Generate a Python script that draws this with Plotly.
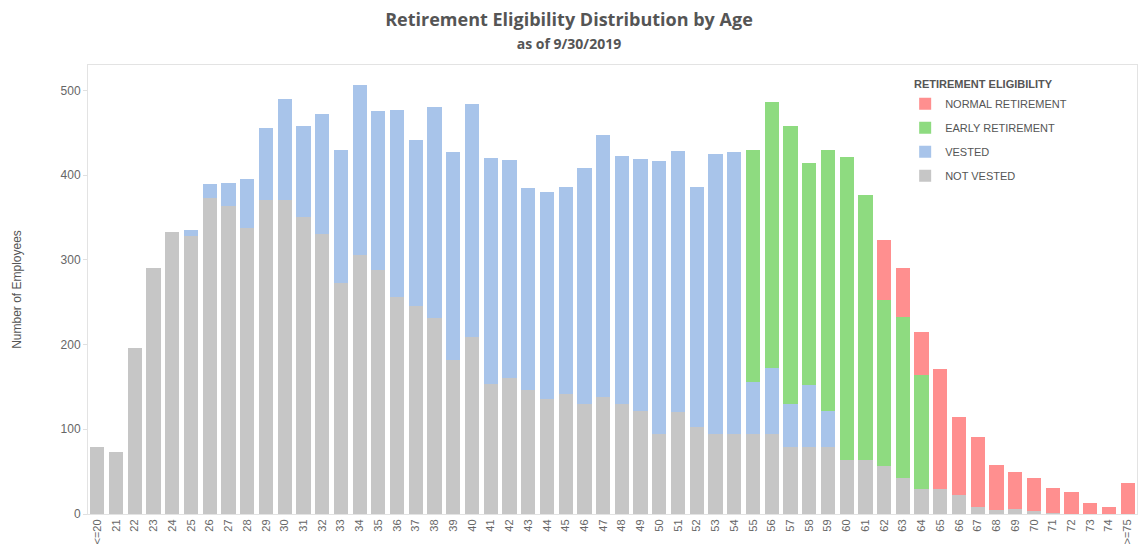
import plotly.graph_objects as go

ages = ["<=20"] + [str(a) for a in range(21, 75)] + [">=75"]

not_vested = [79, 73, 196, 290, 333, 328, 373, 363, 338, 371, 371, 351, 331, 273, 306, 288,
              256, 245, 231, 182, 209, 154, 160, 146, 136, 142, 130, 138, 130, 122, 94, 120,
              103, 94, 94, 94, 94, 79, 79, 79, 64, 64, 57, 43, 30, 29, 22, 8, 5, 6, 4, 1,
              0, 0, 0, 0]
vested = [0, 0, 0, 0, 0, 7, 17, 28, 57, 85, 119, 107, 141, 157, 200, 188,
          221, 196, 249, 245, 275, 266, 258, 239, 244, 244, 278, 309, 292, 297, 323, 308,
          283, 331, 333, 62, 78, 51, 73, 43, 0, 0, 0, 0, 0, 0, 0, 0, 0, 0, 0, 0,
          0, 0, 0, 0]
early_retirement = [0] * 35 + [274, 314, 328, 262, 308, 357, 313, 196, 189, 134] + [0] * 11
normal_retirement = [0] * 42 + [71, 58, 51, 142, 92, 83, 53, 44, 38, 30, 26, 13, 8, 37]

series = [
    ("NOT VESTED", not_vested, "#C6C6C6", 4),
    ("VESTED", vested, "#A8C4EA", 3),
    ("EARLY RETIREMENT", early_retirement, "#8EDB80", 2),
    ("NORMAL RETIREMENT", normal_retirement, "#FF8F8F", 1),
]

fig = go.Figure()
for name, vals, color, rank in series:
    fig.add_trace(go.Bar(
        x=ages, y=vals, name=name, marker_color=color, marker_line_width=0,
        legendgroup=name, legendrank=rank,
    ))

fig.update_layout(
    barmode="stack",
    bargap=0.24,
    width=1138, height=554,
    margin=dict(l=88, r=1, t=65, b=40),
    paper_bgcolor="white", plot_bgcolor="white",
    font=dict(family="Liberation Sans, Arial, sans-serif", color="#666666", size=12),
    title=dict(
        text="<b>Retirement Eligibility Distribution by Age</b><br><span style='font-size:14px'><b>as of 9/30/2019</b></span>",
        x=0.5, xanchor="center", y=0.953, yanchor="top",
        font=dict(family="Open Sans, sans-serif", size=18, color="#555555"),
    ),
    legend=dict(
        traceorder="grouped",
        tracegroupgap=5,
        x=0.779, y=0.946, xanchor="left", yanchor="top",
        font=dict(size=11, color="#555555"),
        bgcolor="rgba(255,255,255,0)",
    ),
    showlegend=True,
    annotations=[dict(
        text="<b>RETIREMENT ELIGIBILITY</b>", xref="paper", yref="paper",
        x=(912 - 88) / 1049, y=(514 - 84) / 449, xanchor="left", yanchor="middle",
        showarrow=False, font=dict(size=11, color="#555555", family="Liberation Sans, Arial, sans-serif"),
    )],
)

fig.update_xaxes(
    type="category", tickangle=-90, tickfont=dict(size=11, color="#666666"),
    showline=True, linecolor="#E3E3E3", mirror=True, ticks="", showgrid=False,
    automargin=False,
)
fig.update_yaxes(
    range=[0, 530], tickvals=[0, 100, 200, 300, 400, 500],
    showgrid=False, zeroline=False, showline=True, linecolor="#E3E3E3", mirror=True,
    ticks="outside", ticklen=4, tickcolor="#E0E0E0",
    tickfont=dict(size=12, color="#666666"),
    title=dict(text="Number of Employees", standoff=36, font=dict(size=12, color="#555555")),
    automargin=False,
)

fig.write_html("out.html", config={"displayModeBar": False},
               post_script="document.body.style.margin='0';")
